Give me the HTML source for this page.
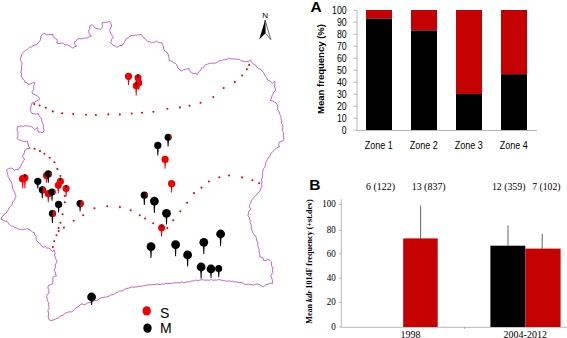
<!DOCTYPE html>
<html><head><meta charset="utf-8"><title>Figure</title>
<style>
html,body{margin:0;padding:0;background:#fff;}
body{width:567px;height:338px;overflow:hidden;font-family:"Liberation Sans",sans-serif;}
svg{display:block}
</style></head><body>
<svg width="567" height="338" viewBox="0 0 567 338">
<rect width="567" height="338" fill="#fff"/>
<path d="M21.6 70.0 L21.55 68.11 L21.51 66.21 L22.2 64.4 L21.8 62.27 L20.43 60.43 L20.4 58.2 L21.35 55.97 L22.2 53.7 L23.63 52.23 L24.9 50.58 L26.86 49.73 L28.4 48.4 L29.74 47.11 L31.56 46.91 L32.96 45.75 L34.57 45.08 L36.4 44.9 L37.68 43.04 L39.5 41.58 L40.5 39.5 L40.9 36.3 L42.31 34.4 L44.4 33.3 L47.0 35.1 L48.91 34.42 L50.96 34.68 L52.9 34.2 L52.96 36.21 L54.2 37.8 L55.65 38.74 L57.2 39.5 L57.14 41.32 L56.8 43.1 L59.05 43.77 L61.3 43.1 L63.5 43.17 L65.14 44.93 L67.39 44.85 L69.3 45.8 L71.35 46.7 L72.8 48.4 L74.33 46.89 L76.4 46.3 L75.06 44.38 L74.2 42.2 L76.06 41.02 L77.3 39.2 L79.01 38.52 L80.85 38.85 L82.63 38.69 L84.34 38.09 L86.14 38.1 L87.9 37.8 L89.43 36.35 L91.5 36.0 L89.66 34.57 L88.8 32.4 L88.75 30.55 L89.75 28.9 L89.75 27.06 L90.2 25.3 L92.4 25.0 L93.9 26.33 L95.0 28.0 L97.22 28.72 L99.5 29.2 L100.7 29.2 L102.4 26.9 L102.18 24.85 L102.1 22.8 L103.9 22.2 L105.87 22.56 L107.7 22.1 L109.5 21.5 L110.92 23.59 L111.7 26.0 L110.51 28.15 L109.5 30.4 L110.37 31.97 L110.85 33.76 L111.92 35.21 L113.1 36.6 L112.7 38.29 L111.13 39.49 L111.57 41.54 L110.4 42.9 L112.02 43.91 L113.29 45.39 L115.33 45.8 L116.6 47.3 L118.4 46.69 L120.0 45.49 L122.0 45.5 L123.3 43.85 L124.51 42.15 L125.39 40.23 L126.4 38.4 L128.43 37.86 L129.8 36.17 L131.7 35.4 L133.69 35.49 L135.63 35.17 L137.59 34.97 L139.53 34.62 L141.5 34.5 L142.38 36.23 L143.51 37.75 L145.25 38.74 L146.29 40.33 L147.7 41.6 L149.71 41.67 L151.3 42.9 L153.16 42.57 L154.9 41.9 L156.6 41.1 L158.14 42.35 L159.99 42.73 L161.9 42.9 L162.86 44.8 L163.4 46.85 L163.7 48.98 L164.6 50.9 L166.87 52.17 L168.2 54.4 L168.52 56.46 L169.19 58.47 L169.0 60.6 L170.79 60.78 L172.39 61.38 L173.58 62.97 L175.3 63.3 L176.59 64.62 L177.28 66.27 L177.8 68.0 L179.32 68.91 L180.36 70.49 L182.1 71.1 L183.56 69.81 L185.47 69.53 L187.23 68.91 L188.9 68.1 L188.99 70.02 L190.1 71.6 L191.7 72.76 L193.45 73.57 L195.55 73.56 L197.2 74.6 L198.2 72.91 L199.24 71.24 L200.95 70.03 L201.6 68.1 L203.52 67.61 L204.48 65.64 L206.08 64.65 L207.9 64.0 L209.63 63.4 L211.4 63.18 L213.22 63.3 L215.0 63.1 L216.7 62.62 L218.21 61.59 L219.75 60.65 L221.61 60.59 L223.25 59.93 L225.01 59.59 L226.85 59.5 L228.3 58.3 L230.05 58.75 L231.86 58.68 L233.62 59.0 L235.4 59.27 L237.2 59.2 L239.3 59.1 L240.94 60.74 L242.92 61.08 L244.83 61.71 L246.9 61.7 L248.89 61.17 L250.5 59.9 L251.53 61.43 L252.3 63.1 L253.94 64.32 L255.76 65.33 L256.83 67.22 L258.5 68.4 L260.62 69.26 L262.0 71.1 L263.42 72.27 L264.15 73.86 L265.1 75.3 L265.79 76.92 L267.04 78.19 L267.4 80.0 L269.44 80.6 L270.95 81.94 L272.3 83.5 L274.5 81.2 L275.06 83.13 L274.69 85.07 L274.5 87.0 L275.64 88.68 L275.5 90.7 L273.87 92.17 L272.97 94.14 L271.9 96.0 L271.51 98.38 L270.2 100.4 L272.41 100.98 L274.42 102.0 L276.4 103.1 L277.08 104.69 L277.91 106.23 L277.43 108.17 L277.74 109.87 L278.95 111.3 L279.42 112.95 L279.9 114.6 L280.81 116.16 L281.12 117.84 L281.13 119.58 L281.57 121.23 L281.14 123.07 L282.39 124.56 L282.92 126.19 L282.6 128.0 L282.19 129.88 L283.0 131.6 L283.75 133.34 L283.42 135.21 L283.7 137.0 L284.05 138.96 L283.1 140.7 L281.03 141.51 L279.0 142.4 L278.64 144.74 L279.6 146.9 L277.7 147.32 L276.14 148.39 L274.6 149.5 L273.04 151.54 L271.0 153.1 L270.28 154.79 L269.65 156.52 L268.03 157.72 L267.44 159.48 L266.6 161.1 L265.56 162.74 L265.47 164.73 L264.94 166.56 L263.9 168.2 L263.19 169.91 L262.67 171.65 L262.57 173.46 L262.36 175.25 L262.5 177.1 L261.76 178.8 L261.57 180.59 L261.98 182.49 L261.3 184.2 L262.2 186.0 L261.28 187.45 L260.57 189.03 L260.06 190.73 L259.16 192.19 L257.7 193.3 L256.45 195.02 L255.01 196.54 L253.3 197.8 L252.27 199.45 L251.16 201.06 L251.03 203.11 L249.62 204.59 L249.4 206.6 L250.6 209.3 L248.84 211.18 L248.3 213.7 L248.04 215.61 L249.21 217.22 L249.76 218.96 L250.11 220.74 L250.1 222.6 L250.97 224.27 L251.42 226.06 L251.31 227.98 L251.4 229.86 L252.4 231.5 L253.24 233.63 L254.89 235.22 L256.1 237.1 L256.35 238.92 L256.61 240.75 L258.03 242.27 L257.71 244.24 L257.83 246.1 L258.46 247.83 L259.3 249.5 L259.03 251.29 L259.48 253.05 L259.97 254.81 L259.6 256.6 L262.8 257.5 L263.7 260.6 L266.06 260.34 L268.2 259.3 L270.09 260.46 L271.7 262.0 L271.52 263.82 L271.51 265.62 L272.54 267.28 L272.77 269.05 L272.25 270.92 L273.1 272.6 L271.68 274.23 L270.8 276.2 L271.7 277.86 L272.21 279.62 L272.62 281.4 L272.6 283.3 L270.29 283.19 L268.2 284.2 L265.95 284.56 L264.17 286.2 L261.9 286.5 L260.4 284.97 L258.4 284.2 L256.02 283.99 L253.9 285.1 L252.17 284.58 L250.33 284.71 L248.61 284.13 L246.75 284.41 L244.95 284.27 L243.3 283.3 L241.62 282.39 L239.79 282.58 L237.99 282.49 L236.3 281.67 L234.43 282.11 L232.75 281.24 L230.9 281.5 L229.19 280.75 L227.27 281.3 L225.49 280.94 L223.72 280.59 L221.92 280.36 L220.2 279.7 L218.42 279.64 L216.67 280.15 L214.89 279.98 L213.13 280.44 L211.32 279.41 L209.58 280.25 L207.8 280.1 L205.73 280.18 L203.65 280.03 L201.57 279.61 L199.5 280.2 L197.74 280.52 L195.88 280.03 L194.17 280.82 L192.39 280.99 L190.61 281.21 L188.92 282.12 L187.07 281.74 L185.34 282.3 L183.59 282.76 L181.68 281.86 L180.01 282.94 L178.18 282.73 L176.4 282.9 L174.6 282.72 L172.84 283.08 L171.09 283.54 L169.29 283.4 L167.51 283.48 L165.71 283.29 L164.0 284.37 L162.18 283.86 L160.43 284.43 L158.65 284.52 L156.83 283.96 L155.08 284.46 L153.3 284.6 L151.51 284.75 L149.7 284.72 L147.89 284.74 L146.2 285.63 L144.39 285.64 L142.64 286.02 L140.86 286.25 L139.05 286.24 L137.32 286.81 L135.52 286.94 L133.76 287.25 L131.89 286.85 L130.2 287.7 L128.33 288.1 L126.47 288.52 L124.67 289.09 L123.23 290.64 L121.31 290.91 L119.36 291.06 L117.8 292.3 L115.99 292.45 L114.67 293.98 L113.03 294.6 L111.23 294.78 L109.75 295.86 L108.02 296.24 L106.45 297.06 L104.6 297.1 L102.88 297.5 L101.18 297.97 L99.48 298.44 L98.21 300.03 L96.4 300.2 L94.51 300.6 L92.75 301.36 L91.23 302.72 L89.07 302.43 L87.25 303.01 L85.7 304.3 L83.96 304.79 L82.13 303.87 L80.4 304.6 L79.07 305.97 L77.57 307.13 L75.68 307.87 L74.41 309.29 L73.3 310.9 L71.64 311.79 L69.77 311.84 L67.97 312.15 L66.2 312.6 L64.79 313.73 L63.37 314.85 L61.75 315.64 L59.92 316.11 L58.91 317.89 L56.99 318.19 L55.5 319.2 L53.33 319.98 L51.1 320.6 L49.28 319.79 L48.4 318.0 L48.16 316.09 L48.57 314.17 L48.42 312.26 L47.79 310.34 L49.08 308.43 L48.8 306.51 L48.4 304.6 L48.77 302.57 L47.29 300.8 L47.24 298.83 L46.64 296.93 L47.0 294.9 L48.8 293.1 L49.09 291.18 L48.28 289.32 L47.98 287.43 L48.4 285.5 L50.16 284.75 L52.0 284.2 L52.81 282.03 L52.91 279.78 L52.7 277.5 L54.51 276.34 L56.6 275.8 L55.29 274.21 L55.4 271.95 L54.0 270.4 L54.69 268.83 L55.46 267.3 L55.26 265.4 L55.82 263.78 L57.0 262.4 L56.62 260.45 L55.63 258.7 L55.1 256.8 L54.28 255.1 L55.26 253.17 L54.61 251.45 L54.2 249.7 L52.4 251.5 L50.89 249.45 L48.8 248.0 L46.88 248.11 L45.37 246.62 L43.33 247.24 L41.7 246.2 L40.76 244.32 L39.0 243.14 L37.55 241.7 L36.4 240.0 L36.02 238.21 L36.08 236.3 L34.73 234.75 L34.6 232.9 L32.55 232.21 L31.07 230.62 L29.08 229.83 L27.5 228.4 L25.51 229.24 L23.43 229.47 L21.3 229.3 L19.34 229.31 L17.64 228.53 L15.92 227.8 L14.15 227.23 L12.58 226.04 L10.7 225.8 L9.27 224.48 L8.3 222.8 L7.1 221.3 L4.89 221.03 L2.9 220.1 L0.9 219.2 L1.61 217.24 L3.11 215.9 L4.09 214.15 L6.11 213.24 L7.1 211.5 L8.22 209.94 L8.86 208.06 L10.25 206.68 L11.85 205.44 L12.4 203.5 L12.81 201.48 L14.6 200.15 L15.02 198.13 L16.0 196.4 L15.09 194.34 L14.63 192.08 L13.3 190.2 L12.7 188.46 L12.41 186.65 L12.2 184.81 L11.5 183.1 L11.21 181.22 L9.56 180.11 L9.28 178.22 L8.0 176.9 L7.96 175.07 L7.54 173.32 L6.89 171.6 L6.7 169.8 L8.61 168.71 L10.7 168.0 L12.79 168.63 L14.2 170.3 L16.39 169.53 L18.7 169.8 L19.15 167.86 L20.92 166.71 L21.31 164.73 L22.16 163.03 L23.03 161.34 L24.5 160.0 L23.75 157.94 L22.2 156.4 L23.56 154.86 L24.21 152.96 L24.63 150.94 L25.8 149.3 L27.93 148.5 L30.2 148.4 L29.04 146.78 L28.4 144.9 L27.89 142.96 L27.5 141.0 L25.33 141.63 L23.1 141.3 L21.0 140.47 L18.83 139.8 L16.9 138.6 L17.98 136.53 L17.8 134.2 L18.0 131.87 L16.9 129.8 L17.8 126.7 L19.58 126.52 L21.3 125.85 L23.22 126.6 L24.9 125.7 L26.73 125.79 L28.49 126.2 L30.36 126.06 L32.0 127.1 L33.42 128.34 L34.6 129.8 L36.13 128.62 L37.7 127.5 L37.95 129.8 L38.2 132.1 L40.47 132.04 L42.6 132.8 L44.0 130.7 L43.84 128.83 L42.98 127.03 L43.5 125.1 L42.58 123.09 L41.75 121.06 L41.7 118.8 L40.42 117.11 L38.83 115.62 L38.2 113.5 L36.13 114.17 L34.07 113.77 L32.0 113.5 L30.75 111.44 L30.2 109.1 L30.92 107.07 L31.44 104.98 L32.0 102.9 L34.33 102.32 L36.4 101.1 L38.32 100.14 L40.0 98.8 L38.7 97.27 L37.35 95.8 L35.5 94.9 L33.68 94.14 L32.0 93.1 L32.33 91.26 L33.78 89.77 L33.7 87.8 L33.52 85.92 L34.61 84.25 L34.6 82.4 L32.32 83.11 L30.2 84.2 L28.23 84.2 L26.82 82.56 L24.9 82.4 L24.39 80.56 L23.1 79.21 L22.25 77.58 L21.0 76.2 L21.64 74.18 L20.9 72.02Z" fill="none" stroke="#b232b2" stroke-width="0.75" stroke-linejoin="round"/>
<circle cx="34.3" cy="104.1" r="1.05" fill="#f00000"/>
<circle cx="39.6" cy="105.5" r="1.05" fill="#f00000"/>
<circle cx="45.8" cy="107.7" r="1.05" fill="#f00000"/>
<circle cx="52.8" cy="111.4" r="1.05" fill="#f00000"/>
<circle cx="62.2" cy="113.3" r="1.05" fill="#f00000"/>
<circle cx="73.2" cy="114" r="1.05" fill="#f00000"/>
<circle cx="86.1" cy="114.8" r="1.05" fill="#f00000"/>
<circle cx="95.9" cy="115" r="1.05" fill="#f00000"/>
<circle cx="108.3" cy="114.4" r="1.05" fill="#f00000"/>
<circle cx="119.8" cy="114.4" r="1.05" fill="#f00000"/>
<circle cx="131.7" cy="113.5" r="1.05" fill="#f00000"/>
<circle cx="142" cy="112.8" r="1.05" fill="#f00000"/>
<circle cx="153.4" cy="111.7" r="1.05" fill="#f00000"/>
<circle cx="167.4" cy="108.7" r="1.05" fill="#f00000"/>
<circle cx="179.9" cy="107.4" r="1.05" fill="#f00000"/>
<circle cx="189.5" cy="105.8" r="1.05" fill="#f00000"/>
<circle cx="200.5" cy="102.7" r="1.05" fill="#f00000"/>
<circle cx="213.3" cy="97" r="1.05" fill="#f00000"/>
<circle cx="223.7" cy="88" r="1.05" fill="#f00000"/>
<circle cx="234.7" cy="81.9" r="1.05" fill="#f00000"/>
<circle cx="242.1" cy="75.5" r="1.05" fill="#f00000"/>
<circle cx="246.9" cy="69.3" r="1.05" fill="#f00000"/>
<circle cx="249.2" cy="64.9" r="1.05" fill="#f00000"/>
<circle cx="34.6" cy="148.8" r="1.05" fill="#f00000"/>
<circle cx="40" cy="151.1" r="1.05" fill="#f00000"/>
<circle cx="44.4" cy="153.7" r="1.05" fill="#f00000"/>
<circle cx="49.7" cy="157.7" r="1.05" fill="#f00000"/>
<circle cx="54.5" cy="162.2" r="1.05" fill="#f00000"/>
<circle cx="57.4" cy="168.9" r="1.05" fill="#f00000"/>
<circle cx="60.4" cy="176" r="1.05" fill="#f00000"/>
<circle cx="62.5" cy="183" r="1.05" fill="#f00000"/>
<circle cx="64" cy="190" r="1.05" fill="#f00000"/>
<circle cx="64.8" cy="196" r="1.05" fill="#f00000"/>
<circle cx="64.8" cy="202.2" r="1.05" fill="#f00000"/>
<circle cx="62.6" cy="214.3" r="1.05" fill="#f00000"/>
<circle cx="60.4" cy="222.8" r="1.05" fill="#f00000"/>
<circle cx="58.6" cy="228.1" r="1.05" fill="#f00000"/>
<circle cx="58.6" cy="231.1" r="1.05" fill="#f00000"/>
<circle cx="56.5" cy="235.2" r="1.05" fill="#f00000"/>
<circle cx="54.2" cy="241.2" r="1.05" fill="#f00000"/>
<circle cx="52.9" cy="247.1" r="1.05" fill="#f00000"/>
<circle cx="63.9" cy="227.6" r="1.05" fill="#f00000"/>
<circle cx="73.7" cy="220.7" r="1.05" fill="#f00000"/>
<circle cx="83.1" cy="215.2" r="1.05" fill="#f00000"/>
<circle cx="94.4" cy="208.3" r="1.05" fill="#f00000"/>
<circle cx="107.2" cy="206.3" r="1.05" fill="#f00000"/>
<circle cx="119.9" cy="207.1" r="1.05" fill="#f00000"/>
<circle cx="130.7" cy="210.3" r="1.05" fill="#f00000"/>
<circle cx="139.8" cy="215.3" r="1.05" fill="#f00000"/>
<circle cx="145.1" cy="218.5" r="1.05" fill="#f00000"/>
<circle cx="153.2" cy="223.3" r="1.05" fill="#f00000"/>
<circle cx="167.3" cy="228.1" r="1.05" fill="#f00000"/>
<circle cx="173.3" cy="220.2" r="1.05" fill="#f00000"/>
<circle cx="180.3" cy="211.3" r="1.05" fill="#f00000"/>
<circle cx="187.1" cy="202.8" r="1.05" fill="#f00000"/>
<circle cx="194" cy="193.1" r="1.05" fill="#f00000"/>
<circle cx="201.5" cy="187.6" r="1.05" fill="#f00000"/>
<circle cx="208.9" cy="181.5" r="1.05" fill="#f00000"/>
<circle cx="219.3" cy="177.2" r="1.05" fill="#f00000"/>
<circle cx="229" cy="175.5" r="1.05" fill="#f00000"/>
<circle cx="242.1" cy="177.4" r="1.05" fill="#f00000"/>
<circle cx="252.4" cy="180.3" r="1.05" fill="#f00000"/>
<circle cx="259.1" cy="183.3" r="1.05" fill="#f00000"/>
<path d="M127.50 76.3 L129.50 76.3 L128.95 84.9 L128.05 84.9Z" fill="#f00000"/><circle cx="128.5" cy="76.3" r="3.6" fill="#f00000"/>
<path d="M137.80 82.7 L139.80 82.7 L139.25 90.0 L138.35 90.0Z" fill="#f00000"/><circle cx="138.8" cy="82.7" r="3.5" fill="#f00000"/>
<path d="M137.00 77.8 L139.00 77.8 L138.45 86.0 L137.55 86.0Z" fill="#f00000"/><circle cx="138" cy="77.8" r="3.5" fill="#f00000"/><rect x="137.4" y="74.3" width="1.2" height="3.1" fill="#000"/>
<path d="M135.20 85.8 L137.20 85.8 L136.65 95.5 L135.75 95.5Z" fill="#f00000"/><circle cx="136.2" cy="85.8" r="3.5" fill="#f00000"/><rect x="135.6" y="82.3" width="1.2" height="3.1" fill="#000"/>
<path d="M167.10 137.2 L169.10 137.2 L168.55 146.6 L167.65 146.6Z" fill="#000"/><circle cx="168.1" cy="137.2" r="3.5" fill="#000"/><path d="M170.11 134.33 A3.5 3.5 0 0 1 170.11 140.07Z" fill="#f00000"/>
<path d="M156.80 145.4 L158.80 145.4 L158.25 155.5 L157.35 155.5Z" fill="#000"/><circle cx="157.8" cy="145.4" r="3.6" fill="#000"/>
<path d="M164.10 159.4 L166.10 159.4 L165.55 168.8 L164.65 168.8Z" fill="#f00000"/><circle cx="165.1" cy="159.4" r="3.6" fill="#f00000"/>
<path d="M170.60 183.7 L172.60 183.7 L172.05 192.5 L171.15 192.5Z" fill="#f00000"/><circle cx="171.6" cy="183.7" r="3.6" fill="#f00000"/>
<path d="M143.30 195.2 L145.30 195.2 L144.75 205.0 L143.85 205.0Z" fill="#000"/><circle cx="144.3" cy="195.2" r="3.6" fill="#000"/><path d="M146.36 192.25 A3.6 3.6 0 0 1 146.36 198.15Z" fill="#f00000"/>
<path d="M153.40 201.1 L155.40 201.1 L154.85 213.0 L153.95 213.0Z" fill="#000"/><circle cx="154.4" cy="201.1" r="4.4" fill="#000"/>
<path d="M165.50 213.3 L167.50 213.3 L166.95 224.5 L166.05 224.5Z" fill="#000"/><circle cx="166.5" cy="213.3" r="4.4" fill="#000"/>
<path d="M160.60 227.8 L162.60 227.8 L162.05 236.6 L161.15 236.6Z" fill="#f00000"/><circle cx="161.6" cy="227.8" r="3.5" fill="#f00000"/><rect x="161.0" y="224.3" width="1.2" height="3.1" fill="#000"/>
<path d="M150.00 246.7 L152.00 246.7 L151.45 258.0 L150.55 258.0Z" fill="#000"/><circle cx="151" cy="246.7" r="4.4" fill="#000"/>
<path d="M174.60 244.6 L176.60 244.6 L176.05 256.2 L175.15 256.2Z" fill="#000"/><circle cx="175.6" cy="244.6" r="4.4" fill="#000"/>
<path d="M186.60 254.9 L188.60 254.9 L188.05 266.5 L187.15 266.5Z" fill="#000"/><circle cx="187.6" cy="254.9" r="4.4" fill="#000"/>
<path d="M202.80 242.3 L204.80 242.3 L204.25 254.0 L203.35 254.0Z" fill="#000"/><circle cx="203.8" cy="242.3" r="4.4" fill="#000"/>
<path d="M219.60 234.0 L221.60 234.0 L221.05 246.0 L220.15 246.0Z" fill="#000"/><circle cx="220.6" cy="234" r="4.4" fill="#000"/>
<path d="M200.10 267.0 L202.10 267.0 L201.55 278.8 L200.65 278.8Z" fill="#000"/><circle cx="201.1" cy="267" r="4.4" fill="#000"/>
<path d="M210.00 269.0 L212.00 269.0 L211.45 278.0 L210.55 278.0Z" fill="#000"/><circle cx="211" cy="269" r="4.4" fill="#000"/>
<path d="M217.70 268.4 L219.70 268.4 L219.15 277.3 L218.25 277.3Z" fill="#000"/><circle cx="218.7" cy="268.4" r="3.5" fill="#000"/>
<path d="M90.60 297.0 L92.60 297.0 L92.05 305.0 L91.15 305.0Z" fill="#000"/><circle cx="91.6" cy="297" r="4.4" fill="#000"/>
<path d="M21.70 178.7 L23.70 178.7 L23.15 188.4 L22.25 188.4Z" fill="#f00000"/><circle cx="22.7" cy="178.7" r="3.8" fill="#f00000"/>
<path d="M23.90 177.8 L25.90 177.8 L25.35 188.4 L24.45 188.4Z" fill="#f00000"/><circle cx="24.9" cy="177.8" r="3.6" fill="#f00000"/><rect x="24.299999999999997" y="174.20000000000002" width="1.2" height="3.2" fill="#000"/>
<path d="M36.80 181.3 L38.80 181.3 L38.25 188.4 L37.35 188.4Z" fill="#000"/><circle cx="37.8" cy="181.3" r="3.6" fill="#000"/>
<path d="M45.50 175.6 L47.50 175.6 L46.95 182.7 L46.05 182.7Z" fill="#f00000"/><circle cx="46.5" cy="175.6" r="3.6" fill="#f00000"/>
<path d="M47.30 173.9 L49.30 173.9 L48.75 182.7 L47.85 182.7Z" fill="#000"/><circle cx="48.3" cy="173.9" r="3.6" fill="#000"/><path d="M50.36 170.95 A3.6 3.6 0 0 1 50.36 176.85Z" fill="#f00000"/>
<path d="M59.40 181.3 L61.40 181.3 L60.85 188.0 L59.95 188.0Z" fill="#f00000"/><circle cx="60.4" cy="181.3" r="3.5" fill="#f00000"/><rect x="59.8" y="177.8" width="1.2" height="3.1" fill="#000"/>
<path d="M57.30 185.2 L59.30 185.2 L58.75 192.9 L57.85 192.9Z" fill="#f00000"/><circle cx="58.3" cy="185.2" r="3.5" fill="#f00000"/>
<path d="M65.10 188.4 L67.10 188.4 L66.55 196.4 L65.65 196.4Z" fill="#f00000"/><circle cx="66.1" cy="188.4" r="3.5" fill="#f00000"/><rect x="65.5" y="184.9" width="1.2" height="3.1" fill="#000"/>
<path d="M41.30 189.8 L43.30 189.8 L42.75 198.2 L41.85 198.2Z" fill="#000"/><circle cx="42.3" cy="189.8" r="3.6" fill="#000"/><path d="M42.3 186.20000000000002 A3.6 3.6 0 0 1 42.3 193.4Z" fill="#f00000"/><rect x="41.9" y="186.20000000000002" width="0.8" height="4.32" fill="#000"/>
<path d="M47.30 193.7 L49.30 193.7 L48.75 202.3 L47.85 202.3Z" fill="#f00000"/><circle cx="48.3" cy="193.7" r="3.6" fill="#f00000"/>
<path d="M51.00 192.0 L53.00 192.0 L52.45 200.8 L51.55 200.8Z" fill="#000"/><circle cx="52" cy="192" r="3.6" fill="#000"/><path d="M54.06 189.05 A3.6 3.6 0 0 1 54.06 194.95Z" fill="#f00000"/>
<path d="M57.60 204.4 L59.60 204.4 L59.05 212.4 L58.15 212.4Z" fill="#000"/><circle cx="58.6" cy="204.4" r="3.6" fill="#000"/>
<path d="M79.10 203.5 L81.10 203.5 L80.55 211.5 L79.65 211.5Z" fill="#000"/><circle cx="80.1" cy="203.5" r="3.6" fill="#000"/><path d="M80.1 199.9 A3.6 3.6 0 0 1 80.1 207.1Z" fill="#f00000"/><rect x="79.69999999999999" y="199.9" width="0.8" height="4.32" fill="#000"/>
<path d="M51.40 213.5 L53.40 213.5 L52.85 223.0 L51.95 223.0Z" fill="#000"/><circle cx="52.4" cy="213.5" r="3.6" fill="#000"/><path d="M52.4 209.9 A3.6 3.6 0 0 1 52.4 217.1Z" fill="#f00000"/><rect x="52.0" y="209.9" width="0.8" height="4.32" fill="#000"/>
<ellipse cx="146.7" cy="310.9" rx="4.2" ry="4.7" fill="#f00000"/>
<ellipse cx="147.5" cy="328.1" rx="4.2" ry="4.7" fill="#000"/>
<text x="160" y="318" font-family="Liberation Sans" font-size="14">S</text>
<text x="160" y="333.3" font-family="Liberation Sans" font-size="14">M</text>
<text x="262.2" y="17.9" font-family="Liberation Sans" font-size="8">N</text>
<path d="M265.1 20 L259.2 39.6 L265.4 33.3Z" fill="#000"/>
<path d="M265.1 20 L270.8 39.6 L265.4 33.3Z" fill="#fff" stroke="#000" stroke-width="0.6"/>
<defs><pattern id="rd" width="4" height="4" patternUnits="userSpaceOnUse"><rect width="4" height="4" fill="#cc0000"/><path d="M0 0h1v1h-1z M2 2h1v1h-1z M1 3h1v1h-1z M3 1h1v1h-1z" fill="#b20000"/></pattern></defs>
<text x="310.5" y="12" font-family="Liberation Sans" font-weight="bold" font-size="15.5">A</text>
<rect x="366" y="10" width="26" height="8.6" fill="url(#rd)"/>
<rect x="366" y="18.6" width="26" height="111.4" fill="#000"/>
<rect x="411" y="10" width="26" height="20.4" fill="url(#rd)"/>
<rect x="411" y="30.4" width="26" height="99.6" fill="#000"/>
<rect x="456" y="10" width="26" height="84.0" fill="url(#rd)"/>
<rect x="456" y="94.0" width="26" height="36.0" fill="#000"/>
<rect x="501" y="10" width="26" height="64.2" fill="url(#rd)"/>
<rect x="501" y="74.2" width="26" height="55.8" fill="#000"/>
<path d="M357 10 V130.5 H537" fill="none" stroke="#999" stroke-width="0.7"/>
<path d="M353.2 130.3 H357" stroke="#999" stroke-width="0.6"/>
<text x="341.8" y="134.0" font-family="Liberation Sans" font-size="11" textLength="4.8" lengthAdjust="spacingAndGlyphs">0</text>
<path d="M353.2 118.3 H357" stroke="#999" stroke-width="0.6"/>
<text x="336.9" y="122.0" font-family="Liberation Sans" font-size="11" textLength="9.7" lengthAdjust="spacingAndGlyphs">10</text>
<path d="M353.2 106.3 H357" stroke="#999" stroke-width="0.6"/>
<text x="336.9" y="110.0" font-family="Liberation Sans" font-size="11" textLength="9.7" lengthAdjust="spacingAndGlyphs">20</text>
<path d="M353.2 94.3 H357" stroke="#999" stroke-width="0.6"/>
<text x="336.9" y="98.0" font-family="Liberation Sans" font-size="11" textLength="9.7" lengthAdjust="spacingAndGlyphs">30</text>
<path d="M353.2 82.3 H357" stroke="#999" stroke-width="0.6"/>
<text x="336.9" y="86.0" font-family="Liberation Sans" font-size="11" textLength="9.7" lengthAdjust="spacingAndGlyphs">40</text>
<path d="M353.2 70.3 H357" stroke="#999" stroke-width="0.6"/>
<text x="336.9" y="74.0" font-family="Liberation Sans" font-size="11" textLength="9.7" lengthAdjust="spacingAndGlyphs">50</text>
<path d="M353.2 58.3 H357" stroke="#999" stroke-width="0.6"/>
<text x="336.9" y="62.0" font-family="Liberation Sans" font-size="11" textLength="9.7" lengthAdjust="spacingAndGlyphs">60</text>
<path d="M353.2 46.3 H357" stroke="#999" stroke-width="0.6"/>
<text x="336.9" y="50.0" font-family="Liberation Sans" font-size="11" textLength="9.7" lengthAdjust="spacingAndGlyphs">70</text>
<path d="M353.2 34.3 H357" stroke="#999" stroke-width="0.6"/>
<text x="336.9" y="38.0" font-family="Liberation Sans" font-size="11" textLength="9.7" lengthAdjust="spacingAndGlyphs">80</text>
<path d="M353.2 22.3 H357" stroke="#999" stroke-width="0.6"/>
<text x="336.9" y="26.0" font-family="Liberation Sans" font-size="11" textLength="9.7" lengthAdjust="spacingAndGlyphs">90</text>
<path d="M353.2 10.3 H357" stroke="#999" stroke-width="0.6"/>
<text x="332.1" y="14.0" font-family="Liberation Sans" font-size="11" textLength="14.5" lengthAdjust="spacingAndGlyphs">100</text>
<text x="364.8" y="149.3" font-family="Liberation Sans" font-size="11" textLength="28" lengthAdjust="spacingAndGlyphs">Zone 1</text>
<text x="409.8" y="149.3" font-family="Liberation Sans" font-size="11" textLength="28" lengthAdjust="spacingAndGlyphs">Zone 2</text>
<text x="454.8" y="149.3" font-family="Liberation Sans" font-size="11" textLength="28" lengthAdjust="spacingAndGlyphs">Zone 3</text>
<text x="499.8" y="149.3" font-family="Liberation Sans" font-size="11" textLength="28" lengthAdjust="spacingAndGlyphs">Zone 4</text>
<text transform="translate(323.5 69) rotate(-90)" text-anchor="middle" font-family="Liberation Sans" font-weight="bold" font-size="9.5" textLength="90" lengthAdjust="spacingAndGlyphs">Mean frequency (%)</text>
<text x="309.3" y="190" font-family="Liberation Sans" font-weight="bold" font-size="15.5">B</text>
<path d="M341.3 199.3 V327.3 H567" fill="none" stroke="#999" stroke-width="0.7"/>
<path d="M464.6 327 V329" stroke="#8c8c8c" stroke-width="0.7"/>
<path d="M338.8 327.0 H341.3" stroke="#999" stroke-width="0.6"/>
<text x="331.3" y="329.7" font-family="Liberation Serif" font-size="10" textLength="4.5" lengthAdjust="spacingAndGlyphs">0</text>
<path d="M338.8 302.4 H341.3" stroke="#999" stroke-width="0.6"/>
<text x="326.8" y="305.1" font-family="Liberation Serif" font-size="10" textLength="9.0" lengthAdjust="spacingAndGlyphs">20</text>
<path d="M338.8 278.1 H341.3" stroke="#999" stroke-width="0.6"/>
<text x="326.8" y="280.8" font-family="Liberation Serif" font-size="10" textLength="9.0" lengthAdjust="spacingAndGlyphs">40</text>
<path d="M338.8 253.8 H341.3" stroke="#999" stroke-width="0.6"/>
<text x="326.8" y="256.5" font-family="Liberation Serif" font-size="10" textLength="9.0" lengthAdjust="spacingAndGlyphs">60</text>
<path d="M338.8 230.4 H341.3" stroke="#999" stroke-width="0.6"/>
<text x="326.8" y="233.1" font-family="Liberation Serif" font-size="10" textLength="9.0" lengthAdjust="spacingAndGlyphs">80</text>
<path d="M338.8 204.5 H341.3" stroke="#999" stroke-width="0.6"/>
<text x="322.3" y="207.2" font-family="Liberation Serif" font-size="10" textLength="13.5" lengthAdjust="spacingAndGlyphs">100</text>
<rect x="403.2" y="238.4" width="34.5" height="88.6" fill="url(#rd)"/><path d="M420.6 205.5 V238.4" stroke="#222" stroke-width="0.7"/>
<rect x="490.4" y="245.7" width="34.9" height="81.3" fill="#000"/><path d="M508 225.4 V245.7" stroke="#222" stroke-width="0.7"/>
<rect x="525.3" y="248.6" width="35.3" height="78.4" fill="url(#rd)"/><path d="M542.2 233.9 V248.6" stroke="#222" stroke-width="0.7"/>
<text x="366" y="190.4" font-family="Liberation Serif" font-size="10" textLength="29" lengthAdjust="spacingAndGlyphs">6 (122)</text>
<text x="411.7" y="190.4" font-family="Liberation Serif" font-size="10" textLength="34" lengthAdjust="spacingAndGlyphs">13 (837)</text>
<text x="491.9" y="190.4" font-family="Liberation Serif" font-size="10" textLength="33.6" lengthAdjust="spacingAndGlyphs">12 (359)</text>
<text x="532.2" y="190.4" font-family="Liberation Serif" font-size="10" textLength="28.4" lengthAdjust="spacingAndGlyphs">7 (102)</text>
<text x="400.4" y="338.4" font-family="Liberation Serif" font-size="10">1998</text>
<text x="503.6" y="338.4" font-family="Liberation Serif" font-size="10">2004-2012</text>
<text transform="translate(312 261.5) rotate(-90)" text-anchor="middle" font-family="Liberation Serif" font-weight="bold" font-size="7.6" textLength="124.5" lengthAdjust="spacingAndGlyphs">Mean <tspan font-style="italic">kdr</tspan> 1014F frequency (+st.dev)</text>
</svg>
</body></html>
